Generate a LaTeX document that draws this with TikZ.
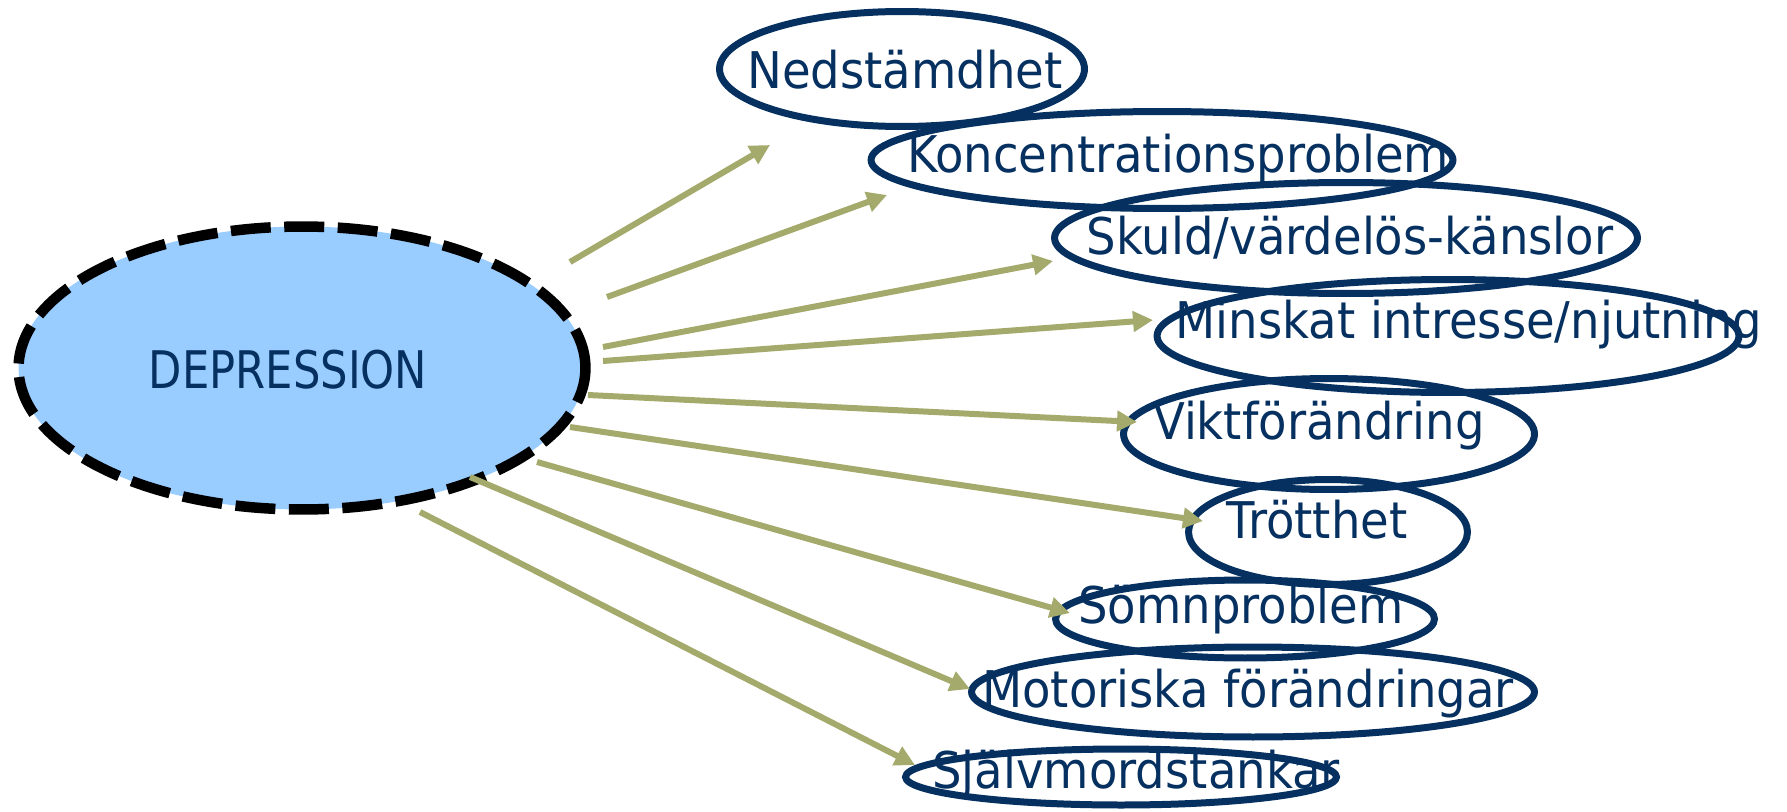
\documentclass[tikz,border=0pt]{standalone}
\usepackage{fontspec}
\usepackage{tikz}
\usetikzlibrary{shapes.geometric,arrows.meta}

\newfontfamily\symfont[FakeStretch=0.92]{DejaVu Sans}
\newfontfamily\depfont[FakeStretch=0.835]{DejaVu Sans}

\definecolor{navy}{RGB}{5,48,96}
\definecolor{skyfill}{RGB}{153,204,255}
\definecolor{olive}{RGB}{164,170,108}

\begin{document}
\begin{tikzpicture}[x=0.02cm, y=-0.02cm,
    dep_node/.style={ellipse, draw=black, fill=skyfill, line width=0.21cm, dash pattern=on 0.8cm off 0.27cm, inner sep=0pt},
    sym_node/.style={ellipse, draw=navy, line width=0.14cm, inner sep=0pt},
    sym_text/.style={anchor=base, inner sep=0pt, text=navy, font=\symfont\fontsize{28.8}{31}\selectfont},
    arrow_line/.style={draw=olive, line width=0.12cm, -{Triangle[length=0.4cm, width=0.4cm]}}]

    \useasboundingbox (0,0) rectangle (1787,811);

    % the big one
    \node[dep_node, minimum width=11.34cm, minimum height=5.66cm] (dep) at (302,368) {};
    \node[anchor=base, inner sep=0pt, text=navy, font=\depfont\fontsize{29.5}{31}\selectfont] (deptext) at (288,388) {DEPRESSION};

    % ellipses
    \node[sym_node, minimum width=7.3cm, minimum height=2.3cm] (1) at (902,69) {};
    \node[sym_node, minimum width=11.64cm, minimum height=1.94cm] (2) at (1162,160) {};
    \node[sym_node, minimum width=11.66cm, minimum height=2.22cm] (3) at (1346,238) {};
    \node[sym_node, minimum width=11.64cm, minimum height=2.26cm] (4) at (1448,336) {};
    \node[sym_node, minimum width=8.22cm, minimum height=2.22cm] (5) at (1329,434) {};
    \node[sym_node, minimum width=5.58cm, minimum height=2.1cm] (6) at (1328,532) {};
    \node[sym_node, minimum width=7.58cm, minimum height=1.56cm] (7) at (1245,619) {};
    \node[sym_node, minimum width=11.26cm, minimum height=1.8cm] (8) at (1253,692) {};
    \node[sym_node, minimum width=8.62cm, minimum height=1.12cm] (9) at (1121,777) {};

    % texts
    \node[sym_text] (t1) at (905,89) {Nedstämdhet};
    \node[sym_text] (t2) at (1178,172) {Koncentrationsproblem};
    \node[sym_text] (t3) at (1350,254) {Skuld/värdelös-känslor};
    \node[sym_text] (t4) at (1469,338) {Minskat intresse/njutning};
    \node[sym_text] (t5) at (1319,439) {Viktförändring};
    \node[sym_text] (t6) at (1317,538) {Trötthet};
    \node[sym_text] (t7) at (1241,623) {Sömnproblem};
    \node[sym_text] (t8) at (1248,707) {Motoriska förändringar};
    \node[sym_text] (t9) at (1136,788) {Självmordstankar};

    % arrow ends
    \coordinate (s1) at (570,262);  \coordinate (e1) at (770,145);
    \coordinate (s2) at (607,297);  \coordinate (e2) at (887,195);
    \coordinate (s3) at (603,347);  \coordinate (e3) at (1053,261);
    \coordinate (s4) at (603,361);  \coordinate (e4) at (1153,320);
    \coordinate (s5) at (588,395);  \coordinate (e5) at (1137,422);
    \coordinate (s6) at (570,427);  \coordinate (e6) at (1203,521);
    \coordinate (s7) at (537,462);  \coordinate (e7) at (1070,613);
    \coordinate (s8) at (470,477);  \coordinate (e8) at (970,689);
    \coordinate (s9) at (420,512);  \coordinate (e9) at (915,765);

    \draw[arrow_line] (s1) -- (e1);
    \draw[arrow_line] (s2) -- (e2);
    \draw[arrow_line] (s3) -- (e3);
    \draw[arrow_line] (s4) -- (e4);
    \draw[arrow_line] (s5) -- (e5);
    \draw[arrow_line] (s6) -- (e6);
    \draw[arrow_line] (s7) -- (e7);
    \draw[arrow_line] (s8) -- (e8);
    \draw[arrow_line] (s9) -- (e9);

\end{tikzpicture}
\end{document}
